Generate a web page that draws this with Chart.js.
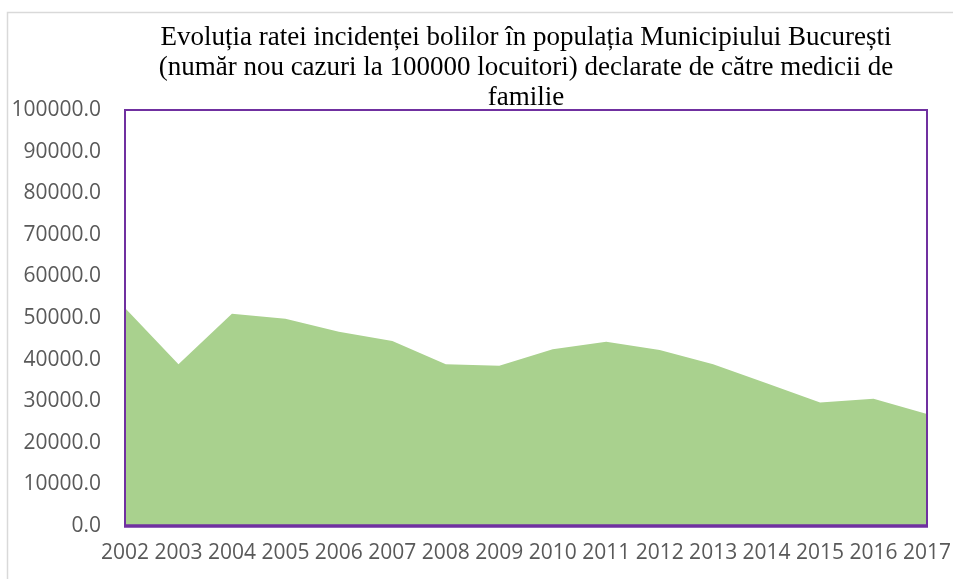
<!DOCTYPE html>
<html>
<head>
<meta charset="utf-8">
<script src="https://cdn.jsdelivr.net/npm/chart.js@4"></script>
<style>
  html, body { margin: 0; padding: 0; background: #ffffff; }
  #wrap { width: 953px; height: 579px; position: relative; }
</style>
</head>
<body>
<div id="wrap"><canvas id="c" width="953" height="579"></canvas></div>
<script>
const titleLines = [
  "Evoluția ratei incidenței bolilor în populația Municipiului București",
  "(număr nou cazuri la 100000 locuitori) declarate de către medicii de",
  "familie"
];
const years = ["2002","2003","2004","2005","2006","2007","2008","2009","2010","2011","2012","2013","2014","2015","2016","2017"];
const incidence = [52400, 38900, 51000, 49800, 46700, 44500, 38900, 38500, 42500, 44300, 42300, 38900, 34300, 29700, 30600, 26900];
const yMin = 0, yMax = 100000, yStep = 10000;

const framePlugin = {
  id: 'frame',
  beforeDraw(chart) {
    const ctx = chart.ctx;
    ctx.save();
    ctx.fillStyle = '#ffffff';
    ctx.fillRect(0, 0, chart.width, chart.height);
    ctx.strokeStyle = '#d9d9d9';
    ctx.lineWidth = 1.5;
    ctx.strokeRect(7.5, 12.5, chart.width + 20, chart.height + 20);
    ctx.restore();
  },
  afterDatasetsDraw(chart) {
    const ctx = chart.ctx;
    const a = chart.chartArea;
    ctx.save();
    ctx.strokeStyle = '#7030a0';
    ctx.lineWidth = 2;
    ctx.beginPath();
    ctx.moveTo(a.left, a.bottom);
    ctx.lineTo(a.left, a.top);
    ctx.lineTo(a.right, a.top);
    ctx.lineTo(a.right, a.bottom);
    ctx.stroke();
    ctx.lineWidth = 3.5;
    ctx.beginPath();
    ctx.moveTo(a.left - 1, a.bottom);
    ctx.lineTo(a.right + 1, a.bottom);
    ctx.stroke();
    // title
    ctx.fillStyle = '#000000';
    ctx.font = '27px "Liberation Serif", "Times New Roman", serif';
    ctx.textAlign = 'center';
    ctx.textBaseline = 'middle';
    const cx = (a.left + a.right) / 2;
    titleLines.forEach((t, i) => ctx.fillText(t, cx, 38 + i * 30));
    ctx.restore();
  }
};

new Chart(document.getElementById('c'), {
  type: 'line',
  data: {
    labels: years,
    datasets: [{
      label: 'Incidența',
      data: incidence,
      fill: 'origin',
      backgroundColor: '#a9d18e',
      borderWidth: 0,
      borderColor: 'rgba(0,0,0,0)',
      pointRadius: 0,
      tension: 0
    }]
  },
  options: {
    responsive: false,
    animation: false,
    layout: { padding: { top: 110, left: 0, right: 26, bottom: 0 } },
    plugins: { legend: { display: false }, title: { display: false }, tooltip: { enabled: false } },
    scales: {
      x: {
        offset: false,
        grid: { display: false, drawTicks: false },
        border: { display: false },
        ticks: {
          color: '#595959',
          font: { family: '"Open Sans", sans-serif', size: 21 },
          padding: 14,
          maxRotation: 0,
          autoSkip: false
        },
        afterFit(scale) { scale.height = 53; scale.paddingLeft = 0; scale.paddingRight = 0; }
      },
      y: {
        min: yMin,
        max: yMax,
        grid: { display: false, drawTicks: false },
        border: { display: false },
        ticks: {
          stepSize: yStep,
          color: '#595959',
          font: { family: '"Open Sans", sans-serif', size: 21 },
          padding: 24,
          callback: v => Number(v).toFixed(1)
        },
        afterFit(scale) { scale.width = 125; scale.paddingTop = 0; scale.paddingBottom = 0; }
      }
    }
  },
  plugins: [framePlugin]
});
</script>
</body>
</html>
